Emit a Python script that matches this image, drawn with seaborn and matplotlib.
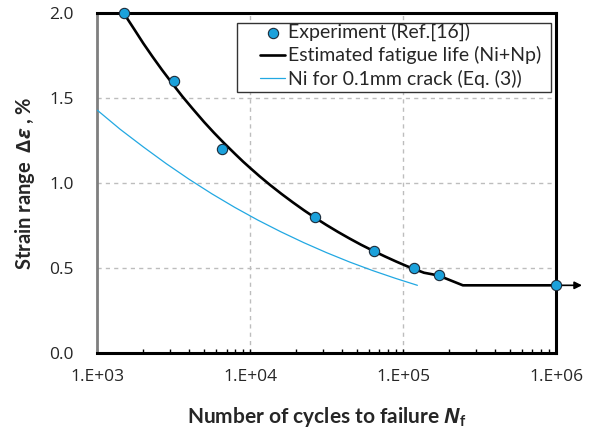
import matplotlib
matplotlib.use("Agg")
import matplotlib.pyplot as plt
from matplotlib.patches import Rectangle
import seaborn as sns
import pandas as pd

# ---- data ----
exp_cycles = [1500, 3150, 6500, 26600, 64500, 117000, 172000, 1000000]
exp_strain = [2.0, 1.6, 1.2, 0.8, 0.6, 0.5, 0.46, 0.4]

fit_cycles = [1516, 1750, 2000, 2300, 2650, 3150, 3600, 4200, 5000, 5800, 6700,
              8000, 9000, 10000, 11500, 13500, 16000, 19000, 22500, 26600,
              31500, 37500, 44500, 53000, 64000, 76000, 90000, 105000, 117000,
              137000, 155000, 172000, 246000, 1000000]
fit_strain = [1.99, 1.904, 1.823, 1.744, 1.667, 1.578, 1.511, 1.439, 1.36, 1.297,
              1.239, 1.171, 1.127, 1.09, 1.042, 0.990, 0.938, 0.888, 0.841, 0.797,
              0.755, 0.714, 0.676, 0.639, 0.602, 0.570, 0.540, 0.514, 0.497,
              0.474, 0.465, 0.456, 0.40, 0.40]

ni_cycles = [1000, 1410, 2000, 2820, 3980, 5620, 7940, 11200, 15850, 22400,
             31600, 44700, 63100, 89100, 124000]
ni_strain = [1.43, 1.318, 1.214, 1.116, 1.024, 0.938, 0.858, 0.784, 0.715, 0.651,
             0.592, 0.537, 0.487, 0.441, 0.40]

x_ticks = [1e3, 1e4, 1e5, 1e6]
x_tick_labels = ["1.E+03", "1.E+04", "1.E+05", "1.E+06"]
y_ticks = [0.0, 0.5, 1.0, 1.5, 2.0]
y_tick_labels = ["0.0", "0.5", "1.0", "1.5", "2.0"]

labels = ["Experiment (Ref.[16])", "Estimated fatigue life (Ni+Np)",
          "Ni for 0.1mm crack (Eq. (3))"]

# ---- style ----
sns.set_theme(style="white")
plt.rcParams["font.family"] = ["Lato", "DejaVu Sans"]
plt.rcParams["mathtext.fontset"] = "custom"
plt.rcParams["mathtext.it"] = "Open Sans:italic:bold"
plt.rcParams["mathtext.rm"] = "Open Sans:bold"
plt.rcParams["mathtext.bf"] = "Lato:bold"

blue_pt = "#1ba1db"
blue_ln = "#22a8e2"

fig = plt.figure(figsize=(5.92, 4.37), dpi=100)
ax = fig.add_axes([0.1644, 0.1915, 0.7748, 0.778])

df_fit = pd.DataFrame({"N": fit_cycles, "e": fit_strain})
df_ni = pd.DataFrame({"N": ni_cycles, "e": ni_strain})
df_exp = pd.DataFrame({"N": exp_cycles, "e": exp_strain})

sns.lineplot(data=df_ni, x="N", y="e", ax=ax, color=blue_ln, lw=0.9,
             estimator=None, sort=False, label=labels[2], zorder=3)
sns.lineplot(data=df_fit, x="N", y="e", ax=ax, color="black", lw=1.9,
             estimator=None, sort=False, label=labels[1], zorder=3, clip_on=False,
             solid_joinstyle="round")
sns.scatterplot(data=df_exp, x="N", y="e", ax=ax, color=blue_pt, s=55,
                edgecolor="#1c2b3a", linewidth=0.8, zorder=6, clip_on=False,
                label=labels[0])

# arrow continuing beyond 1E+06
ax.annotate("", xy=(1.48e6, exp_strain[-1]), xytext=(exp_cycles[-1], exp_strain[-1]),
            xycoords="data", textcoords="data", annotation_clip=False,
            arrowprops=dict(arrowstyle="-|>", color="black", lw=1.2,
                            mutation_scale=11, shrinkA=0, shrinkB=0), zorder=5)

ax.set_xscale("log")
ax.set_xlim(1e3, 1e6)
ax.set_ylim(0, 2.0)
ax.set_xticks(x_ticks)
ax.set_xticklabels(x_tick_labels, fontfamily="Open Sans", fontsize=12.5)
ax.set_yticks(y_ticks)
ax.set_yticklabels(y_tick_labels, fontfamily="Open Sans", fontsize=12.5)

ax.tick_params(axis="y", which="major", length=0, pad=17)
ax.tick_params(axis="x", which="major", direction="in", length=3.2, width=1,
               color="black", pad=11, bottom=True)
ax.tick_params(axis="x", which="minor", direction="in", length=3.2, width=1,
               color="black", bottom=True)
ax.xaxis.set_minor_formatter(matplotlib.ticker.NullFormatter())

ax.grid(True, which="major", color="#bdbdbd", ls=(0, (3, 3)), lw=1)
ax.set_axisbelow(True)

for side in ["top", "right", "bottom"]:
    ax.spines[side].set_color("black")
    ax.spines[side].set_linewidth(2.2)
ax.spines["left"].set_color("#7f7f7f")
ax.spines["left"].set_linewidth(2.0)

ax.set_xlabel(r"Number of cycles to failure $\mathit{N}_{\mathbf{f}}$",
              fontsize=15, fontweight="bold", labelpad=15)
ax.set_ylabel(r"Strain range  $\mathit{\Delta\varepsilon}$ , %",
              fontsize=14.5, fontweight="bold", labelpad=9)

# legend: white framed box plus frameless legend content
handles, labs = ax.get_legend_handles_labels()
order = [labs.index(l) for l in labels]
ax.add_patch(Rectangle((0.3046, 0.7685), 0.989 - 0.3046, 0.9715 - 0.7685,
                       transform=ax.transAxes, facecolor="white",
                       edgecolor="#333333", lw=1.0, zorder=7, clip_on=False))
leg = ax.legend([handles[i] for i in order], [labs[i] for i in order],
                loc="upper left", bbox_to_anchor=(0.3547, 0.9715),
                frameon=False, borderpad=0, borderaxespad=0,
                handlelength=1.3, handletextpad=0.15, labelspacing=0.26,
                prop={"family": "Lato", "size": 14})
leg.set_zorder(8)

fig.savefig("out.png", dpi=100)
